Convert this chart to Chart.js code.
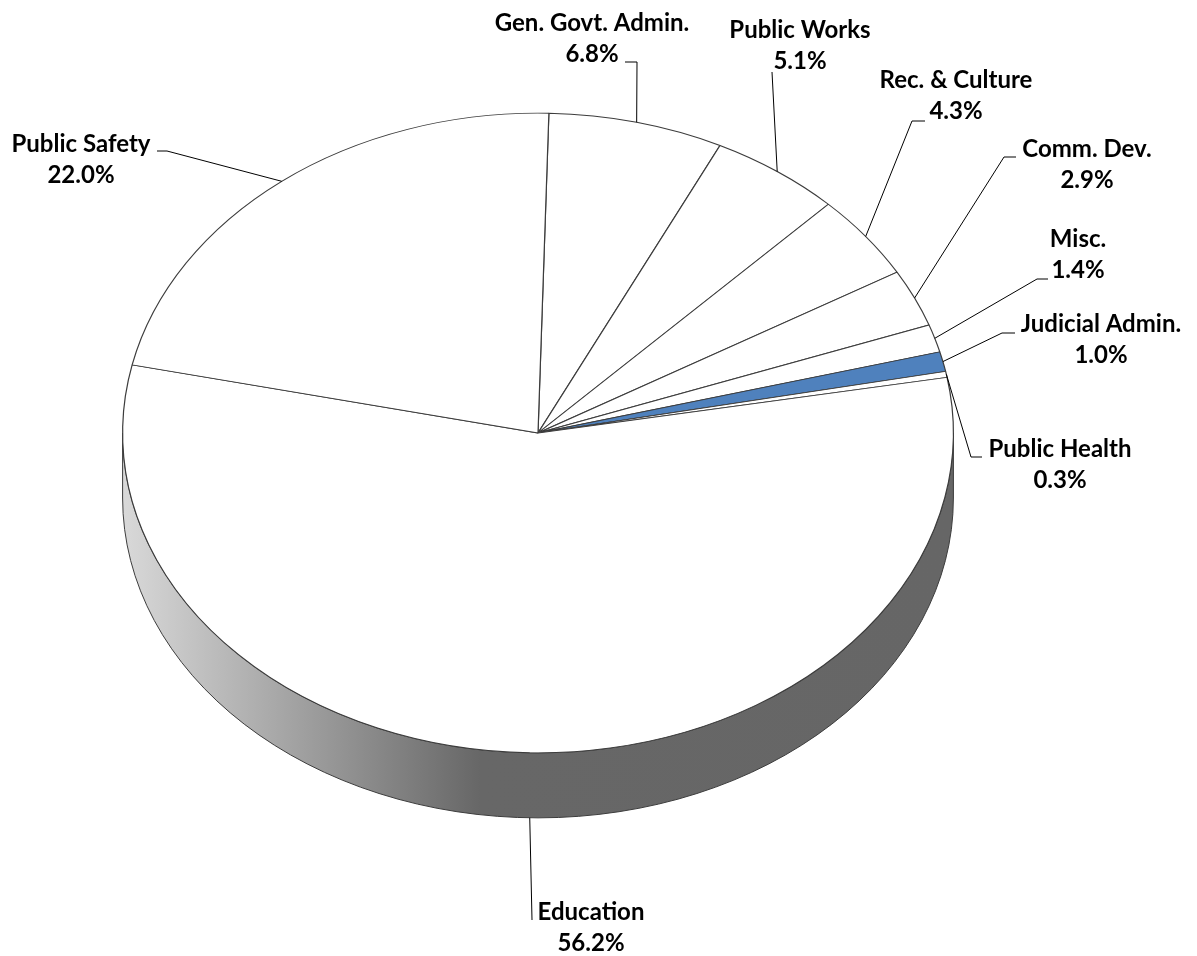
<!DOCTYPE html>
<html>
<head>
<meta charset="utf-8">
<script src="https://cdn.jsdelivr.net/npm/chart.js@4.4.1/dist/chart.umd.min.js"></script>
<style>
  html, body { margin: 0; padding: 0; background: #fff; }
</style>
</head>
<body>
<canvas id="chart" width="1197" height="956"></canvas>
<script>
const categories = ['Gen. Govt. Admin.', 'Public Works', 'Rec. & Culture', 'Comm. Dev.', 'Misc.',
  'Judicial Admin.', 'Public Health', 'Education', 'Public Safety'];
const shares = [6.8, 5.1, 4.3, 2.9, 1.4, 1.0, 0.3, 56.2, 22.0];
const sliceColors = ['#ffffff', '#ffffff', '#ffffff', '#ffffff', '#ffffff',
  '#4f81bd', '#ffffff', '#ffffff', '#ffffff'];

// where each label sits (text centre / first baseline) and the leader bends
const labelSpots = [
  { tx: 592,  ty: 31,  path: [[637, 62], [625, 62]] },
  { tx: 800,  ty: 38,  path: [[772, 72]] },
  { tx: 956,  ty: 88,  path: [[912, 121], [925, 121]] },
  { tx: 1087, ty: 157, path: [[1004, 157], [1016, 157]] },
  { tx: 1078, ty: 247, path: [[1037, 279], [1048, 279]] },
  { tx: 1101, ty: 332, path: [[1002, 333], [1015, 333]] },
  { tx: 1060, ty: 457, path: [[971, 457], [982, 457]] },
  { tx: 591,  ty: 920, path: [[532, 920]] },
  { tx: 81,   ty: 152, path: [[167, 151], [157, 151]] },
];

const SQUASH = 0.77;   // vertical flattening of the pie top
const DEPTH = 65;      // thickness of the side wall

const tiltPlugin = {
  id: 'tilt',
  beforeDatasetsDraw(chart) {
    const ctx = chart.ctx;
    const arcs = chart.getDatasetMeta(0).data;
    const cx = arcs[0].x, cy = arcs[0].y, r = arcs[0].outerRadius;

    // front wall, only the part facing the viewer (0..PI)
    const grad = ctx.createLinearGradient(cx - r, 0, cx + r, 0);
    grad.addColorStop(0, '#d9d9d9');
    grad.addColorStop(0.43, '#676767');
    grad.addColorStop(1, '#666666');

    arcs.forEach(arc => {
      const a1 = Math.max(arc.startAngle, 0);
      const a2 = Math.min(arc.endAngle, Math.PI);
      if (a2 <= a1) return;
      ctx.save();
      ctx.beginPath();
      ctx.ellipse(cx, cy, r, r * SQUASH, 0, a1, a2);
      ctx.ellipse(cx, cy + DEPTH, r, r * SQUASH, 0, a2, a1, true);
      ctx.closePath();
      ctx.fillStyle = grad;
      ctx.fill();
      ctx.strokeStyle = '#3c3c3c';
      ctx.lineWidth = 1;
      ctx.stroke();
      ctx.restore();
    });

    ctx.save();
    ctx.translate(cx, cy);
    ctx.scale(1, SQUASH);
    ctx.translate(-cx, -cy);
  },
  afterDatasetsDraw(chart) {
    const ctx = chart.ctx;
    ctx.restore();

    const arcs = chart.getDatasetMeta(0).data;
    ctx.save();
    ctx.strokeStyle = '#000';
    ctx.lineWidth = 1;
    ctx.fillStyle = '#000';
    ctx.font = 'bold 24px Lato';
    ctx.textAlign = 'center';
    ctx.textBaseline = 'alphabetic';

    arcs.forEach((arc, i) => {
      const mid = (arc.startAngle + arc.endAngle) / 2;
      const r = arc.outerRadius;
      const px = arc.x + r * Math.cos(mid);
      let py = arc.y + r * SQUASH * Math.sin(mid);
      if (Math.sin(mid) > 0) py += DEPTH;

      const spot = labelSpots[i];
      ctx.beginPath();
      ctx.moveTo(px, py);
      spot.path.forEach(p => ctx.lineTo(p[0], p[1]));
      ctx.stroke();

      ctx.fillText(categories[i], spot.tx, spot.ty);
      ctx.fillText(shares[i].toFixed(1) + '%', spot.tx, spot.ty + 31);
    });
    ctx.restore();
  }
};

new Chart(document.getElementById('chart'), {
  type: 'pie',
  data: {
    labels: categories,
    datasets: [{
      data: shares,
      backgroundColor: sliceColors,
      borderColor: '#3c3c3c',
      borderWidth: 1.2,
    }]
  },
  options: {
    responsive: false,
    animation: false,
    rotation: 1.5,
    layout: { padding: { left: 122, right: 243, top: 17, bottom: 107 } },
    plugins: {
      legend: { display: false },
      tooltip: { enabled: false },
    }
  },
  plugins: [tiltPlugin]
});
</script>
</body>
</html>
